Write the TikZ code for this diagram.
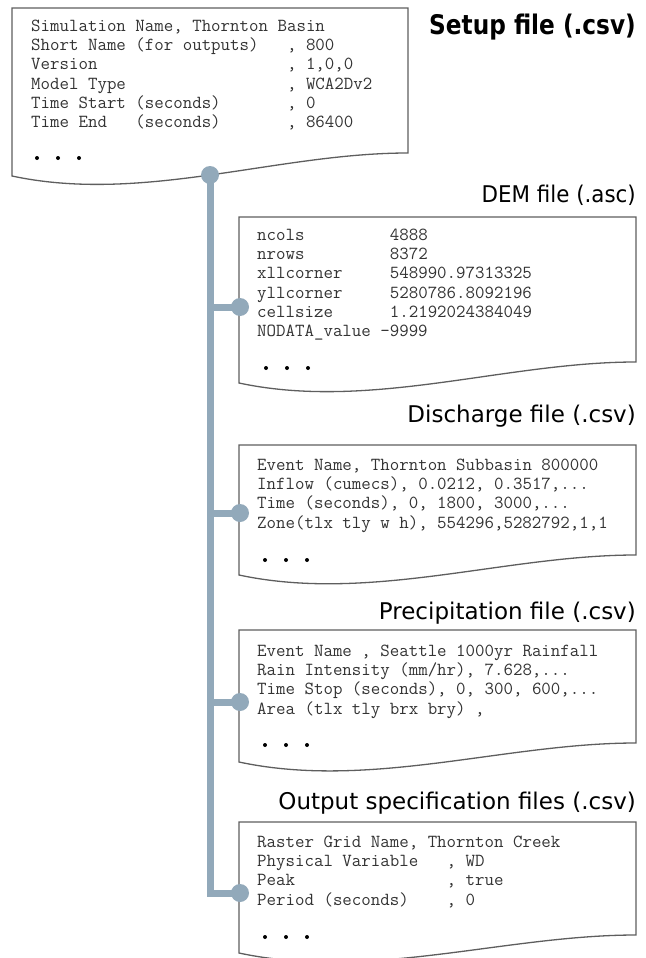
\documentclass[tikz,border=0pt]{standalone}
\usepackage{fontspec}
\newfontfamily\titlefont{DejaVu Sans}
\newfontfamily\demfont[FakeStretch=0.93]{DejaVu Sans}
\newfontfamily\setupfont[FakeStretch=0.86]{DejaVu Sans}
\definecolor{trunk}{HTML}{92A9BA}
\definecolor{boxline}{HTML}{5E5E5E}
\definecolor{txt}{HTML}{333333}
\newcommand\gap[1]{\hskip#1\fontdimen2\font\relax}
% L T R yR yL name
\newcommand\docbox[6]{%
  \draw[boxstyle] (#1,#5) -- (#1,#2) -- (#3,#2) -- (#3,#4)
    .. controls ({#1+0.67*(#3-#1)},#4) and ({#1+0.33*(#3-#1)},{#5+28}) .. (#1,#5) -- cycle;
  \coordinate (#6) at (#1,#2);}
\newcommand\ellipsisdots[2]{\foreach \k in {0,1,2} \fill[black] ({#1+21*\k},#2) circle (2);}
\tikzset{
  boxstyle/.style={draw=boxline, line width=1.3pt, fill=white},
  mono/.style={anchor=north west, inner sep=0pt, align=left, text=txt,
    font=\ttfamily\fontsize{18.4}{19.3}\selectfont},
  filetitle/.style={anchor=base east, inner sep=0pt, text=black,
    font=\titlefont\fontsize{23}{27}\selectfont},
  setuptitle/.style={anchor=base east, inner sep=0pt, text=black,
    font=\setupfont\bfseries\fontsize{27}{31}\selectfont},
  trunkline/.style={draw=trunk, line width=7pt},
  connector/.style={fill=trunk},
}
\begin{document}
\begin{tikzpicture}[x=1pt,y=-1pt]
\useasboundingbox (0,0) rectangle (645,958);

% boxes
\docbox{12}{8}{408}{153}{176}{setupbox}
\docbox{239}{217}{636}{362}{383}{dembox}
\docbox{239}{445}{636}{555}{575}{disbox}
\docbox{239}{630}{636}{743}{762}{prebox}
\docbox{239}{822}{636}{935}{953}{outbox}

% titles
\node[setuptitle] (tsetup) at (636,35) {Setup file (.csv)};
\node[filetitle, font=\demfont\fontsize{23}{27}\selectfont] (tdem) at (636,202) {DEM file (.asc)};
\node[filetitle] (tdis) at (636,422) {Discharge file (.csv)};
\node[filetitle] (tpre) at (636,619) {Precipitation file (.csv)};
\node[filetitle] (tout) at (636,809) {Output specification files (.csv)};

% texts
\node[mono] (xsetup) at (31,17.5) {\strut Simulation Name, Thornton Basin\\
Short Name (for outputs)\gap{3}, 800\\
Version\gap{20}, 1,0,0\\
Model Type\gap{17}, WCA2Dv2\\
Time Start (seconds)\gap{7}, 0\\
Time End\gap{3}(seconds)\gap{7}, 86400};
\ellipsisdots{37}{158}

\node[mono] (xdem) at (257,226.5) {\strut ncols\gap{9}4888\\
nrows\gap{9}8372\\
xllcorner\gap{5}548990.97313325\\
yllcorner\gap{5}5280786.8092196\\
cellsize\gap{6}1.2192024384049\\
NODATA\_value -9999};
\ellipsisdots{266}{368}

\node[mono] (xdis) at (257,456.5) {\strut Event Name, Thornton Subbasin 800000\\
Inflow (cumecs), 0.0212, 0.3517,...\\
Time (seconds), 0, 1800, 3000,...\\
Zone(tlx tly w h), 554296,5282792,1,1};
\ellipsisdots{265}{560}

\node[mono] (xpre) at (257,642.5) {\strut Event Name , Seattle 1000yr Rainfall\\
Rain Intensity (mm/hr), 7.628,...\\
Time Stop (seconds), 0, 300, 600,...\\
Area (tlx tly brx bry) ,};
\ellipsisdots{265}{745}

\node[mono] (xout) at (257,833.5) {\strut Raster Grid Name, Thornton Creek\\
Physical Variable\gap{3}, WD\\
Peak\gap{16}, true\\
Period (seconds)\gap{4}, 0};
\ellipsisdots{265}{937}

% connector tree
\coordinate (c0) at (210,175);
\coordinate (c1) at (240,307);
\coordinate (c2) at (240,513);
\coordinate (c3) at (240,702);
\coordinate (c4) at (240,893);
\draw[trunkline] (c0) |- (c4);
\draw[trunkline] (c1 -| c0) -- (c1);
\draw[trunkline] (c2 -| c0) -- (c2);
\draw[trunkline] (c3 -| c0) -- (c3);
\foreach \c in {c0,c1,c2,c3,c4} \fill[connector] (\c) circle (9);
\end{tikzpicture}
\end{document}
